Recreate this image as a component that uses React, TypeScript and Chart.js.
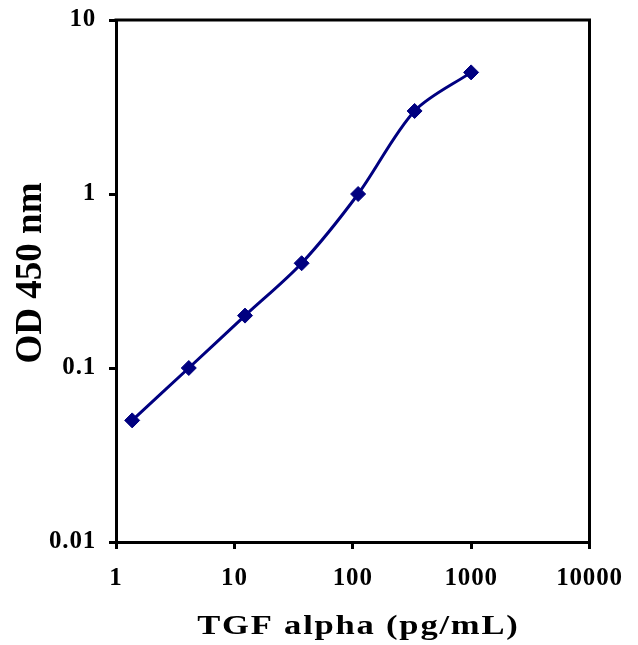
import { useEffect, useRef } from "react";
import { Chart, registerables } from "chart.js";

Chart.register(...registerables);

const concentrations = [1.37, 4.12, 12.3, 37, 111, 333, 1000];
const odValues = [0.05, 0.1, 0.2, 0.4, 1.0, 3.0, 5.0];
const xTickValues = [1, 10, 100, 1000, 10000];
const yTickValues = [0.01, 0.1, 1, 10];
const xTitle = "TGF alpha (pg/mL)";
const yTitle = "OD 450 nm";

const FONT = "'Liberation Serif'";

const framePlugin = {
  id: "frameAndTitles",
  beforeDraw(chart: any) {
    chart.ctx.letterSpacing = "0.8px";
  },
  afterDraw(chart: any) {
    const { ctx, chartArea } = chart;
    const { left, right, top, bottom } = chartArea;
    ctx.save();
    ctx.strokeStyle = "#000";
    ctx.lineWidth = 3;
    ctx.beginPath();
    ctx.moveTo(left - 1.5, top);
    ctx.lineTo(right, top);
    ctx.lineTo(right, bottom + 1.5);
    ctx.stroke();

    ctx.fillStyle = "#000";
    ctx.textAlign = "center";
    ctx.textBaseline = "alphabetic";

    // x-axis title (wide, slightly stretched as in the reference)
    ctx.save();
    ctx.font = `bold 27px ${FONT}`;
    ctx.letterSpacing = "1.4px";
    ctx.translate(357.5, 634);
    ctx.scale(1.28, 1);
    ctx.fillText(xTitle, 0.7, 0);
    ctx.restore();

    // y-axis title
    ctx.save();
    ctx.font = `bold 37px ${FONT}`;
    ctx.letterSpacing = "0px";
    ctx.translate(41, 273);
    ctx.rotate(-Math.PI / 2);
    ctx.fillText(yTitle, 0, 0);
    ctx.restore();

    ctx.restore();
  },
};

export default function App() {
  const canvasRef = useRef<HTMLCanvasElement | null>(null);

  useEffect(() => {
    const canvas = canvasRef.current;
    if (!canvas) return;
    let chart: Chart | null = null;
    let cancelled = false;
    const tickFont = { family: FONT, size: 25, weight: "bold" as const };
    const build = () => {
      if (cancelled) return;
      chart = new Chart(canvas, {
        type: "scatter",
        data: {
          datasets: [
            {
              data: concentrations.map((x, i) => ({ x, y: odValues[i] })),
              showLine: true,
              borderColor: "#000080",
              backgroundColor: "#000080",
              borderWidth: 3,
              pointStyle: "rectRot",
              pointRadius: 7.5,
              pointBorderWidth: 1,
              pointBorderColor: "#000080",
              pointBackgroundColor: "#000080",
              tension: 0.3,
            },
          ],
        },
        options: {
          animation: false,
          responsive: false,
          devicePixelRatio: 1,
          layout: { padding: { left: 0, top: 20, right: 48.5, bottom: 0 } },
          plugins: {
            legend: { display: false },
            tooltip: { enabled: false },
          },
          scales: {
            x: {
              type: "logarithmic",
              min: 1,
              max: 10000,
              afterBuildTicks: (s: any) => {
                s.ticks = xTickValues.map((v) => ({ value: v }));
              },
              afterFit: (s: any) => {
                s.height = 103;
                s.paddingLeft = 0;
                s.paddingRight = 0;
              },
              grid: {
                drawOnChartArea: false,
                drawTicks: true,
                tickLength: 7,
                lineWidth: 3,
                color: "#000",
              },
              border: { display: true, width: 3, color: "#000" },
              ticks: {
                font: tickFont,
                color: "#000",
                padding: 14.5,
                autoSkip: false,
                maxRotation: 0,
                callback: (v: any) => String(v),
              },
            },
            y: {
              type: "logarithmic",
              min: 0.01,
              max: 10,
              afterBuildTicks: (s: any) => {
                s.ticks = yTickValues.map((v) => ({ value: v }));
              },
              afterFit: (s: any) => {
                s.width = 116;
                s.paddingTop = 0;
                s.paddingBottom = 0;
              },
              grid: {
                drawOnChartArea: false,
                drawTicks: true,
                tickLength: 7,
                lineWidth: 3,
                color: "#000",
              },
              border: { display: true, width: 3, color: "#000" },
              ticks: {
                font: tickFont,
                color: "#000",
                padding: 13,
                autoSkip: false,
                callback: (v: any) => String(v),
              },
            },
          },
        },
        plugins: [framePlugin],
      });
    };
    const fontsApi = (document as any).fonts;
    if (fontsApi && fontsApi.load) {
      Promise.all([
        fontsApi.load(`bold 25px ${FONT}`),
        fontsApi.load(`bold 27px ${FONT}`),
      ])
        .catch(() => null)
        .then(build);
    } else {
      build();
    }
    return () => {
      cancelled = true;
      if (chart) chart.destroy();
    };
  }, []);

  return (
    <div style={{ position: "fixed", left: 0, top: 0, width: 638, height: 645, background: "#fff" }}>
      <canvas ref={canvasRef} width={638} height={645} style={{ display: "block" }} />
    </div>
  );
}
